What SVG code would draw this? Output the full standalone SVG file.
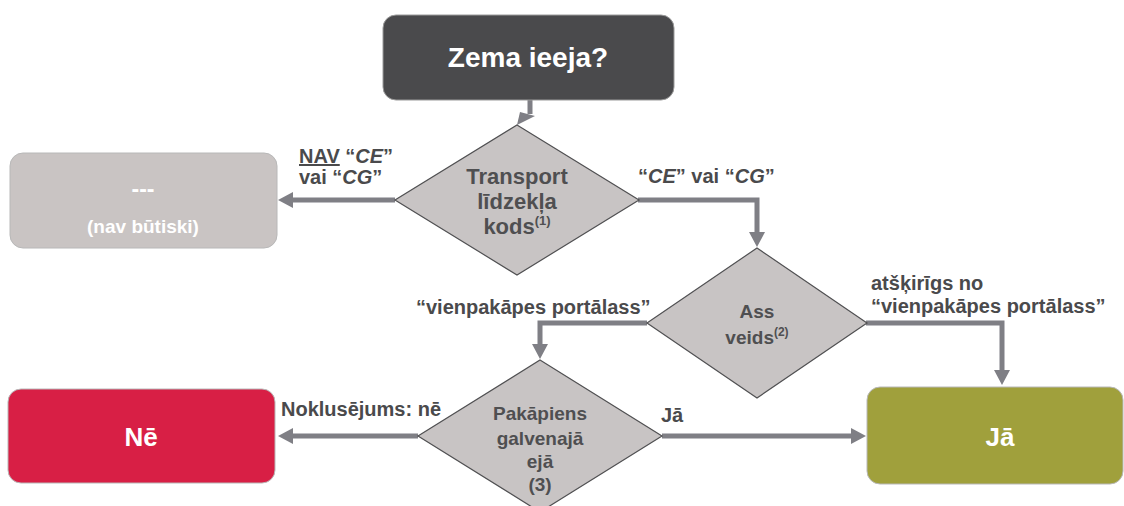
<svg xmlns="http://www.w3.org/2000/svg" width="1124" height="506" viewBox="0 0 1124 506">
  <style>
    .box { stroke: #b8b8b8; stroke-width: 1; }
    .dia { fill: #c8c4c4; stroke: #505052; stroke-width: 1.2; }
    .wt { fill: #ffffff; font-family: "Liberation Sans", Arial, sans-serif; font-weight: bold; text-anchor: middle; }
    .dt { fill: #4f4f51; font-family: "Liberation Sans", Arial, sans-serif; font-weight: bold; text-anchor: middle; font-size: 19px; }
    .dt.big { font-size: 22px; }
    .lb { fill: #4a4a4c; font-family: "Liberation Sans", Arial, sans-serif; font-weight: bold; font-size: 20px; }
    .con { fill: none; stroke: #7f7f85; stroke-width: 5; }
  </style>
  <defs>
    <marker id="arrow" markerUnits="userSpaceOnUse" markerWidth="16" markerHeight="16" refX="1" refY="8" orient="auto">
      <path d="M0,0 L15,8 L0,16 z" fill="#7f7f85"/>
    </marker>
  </defs>

  <!-- connectors -->
  <g id="connectors">
    <path class="con" d="M530,100 V114"/>
    <polygon points="517,125 520,112 535,116" fill="#7f7f85"/>
    <path class="con" d="M395,200 H292" marker-end="url(#arrow)"/>
    <path class="con" d="M638,200 H757 V233" marker-end="url(#arrow)"/>
    <path class="con" d="M647,323 H540 V345" marker-end="url(#arrow)"/>
    <path class="con" d="M866,323 H1002 V371" marker-end="url(#arrow)"/>
    <path class="con" d="M418,436 H292" marker-end="url(#arrow)"/>
    <path class="con" d="M662,436 H852" marker-end="url(#arrow)"/>
  </g>

  <!-- connector labels -->
  <g id="labels">
    <text class="lb" x="299" y="163"><tspan text-decoration="underline">NAV</tspan> “<tspan font-style="italic">CE</tspan>”</text>
    <text class="lb" x="299" y="184">vai “<tspan font-style="italic">CG</tspan>”</text>
    <text class="lb" x="638" y="183">“<tspan font-style="italic">CE</tspan>” vai “<tspan font-style="italic">CG</tspan>”</text>
    <text class="lb" x="416" y="314">“vienpakāpes portālass”</text>
    <text class="lb" x="871" y="290">atšķirīgs no</text>
    <text class="lb" x="871" y="313">“vienpakāpes portālass”</text>
    <text class="lb" x="281" y="416">Noklusējums: nē</text>
    <text class="lb" x="661" y="422">Jā</text>
  </g>

  <g id="start">
    <rect x="383" y="15" width="291" height="85" rx="13" fill="#4a4a4c" stroke="#9a9a9a"/>
    <text class="wt" x="528" y="67" font-size="28">Zema ieeja?</text>
  </g>

  <g id="not-relevant">
    <rect class="box" x="10" y="153" width="267" height="95" rx="13" fill="#c9c4c3"/>
    <text class="wt" x="143" y="197" font-size="23">---</text>
    <text class="wt" x="143" y="233" font-size="19">(nav būtiski)</text>
  </g>

  <g id="vehicle-code">
    <polygon class="dia" points="517,125 639,200 517,275 395,200"/>
    <text class="dt big" x="517" y="184">Transport</text>
    <text class="dt big" x="517" y="209">līdzekļa</text>
    <text class="dt big" x="517" y="234">kods<tspan font-size="13" dy="-9">(1)</tspan></text>
  </g>

  <g id="axle-type">
    <polygon class="dia" points="757,248 867,323 757,398 647,323"/>
    <text class="dt" x="757" y="318">Ass</text>
    <text class="dt" x="757" y="344">veids<tspan font-size="12" dy="-8">(2)</tspan></text>
  </g>

  <g id="step-entrance">
    <polygon class="dia" points="540,360 662,436 540,512 418,436"/>
    <text class="dt" x="540" y="420">Pakāpiens</text>
    <text class="dt" x="540" y="445">galvenajā</text>
    <text class="dt" x="540" y="468">ejā</text>
    <text class="dt" x="540" y="491">(3)</text>
  </g>

  <g id="no">
    <rect class="box" x="8" y="389" width="267" height="94" rx="13" fill="#d81f45"/>
    <text class="wt" x="141" y="446" font-size="26">Nē</text>
  </g>

  <g id="yes">
    <rect class="box" x="867" y="387" width="256" height="97" rx="13" fill="#a0a03c"/>
    <text class="wt" x="1000" y="446" font-size="26">Jā</text>
  </g>
</svg>
